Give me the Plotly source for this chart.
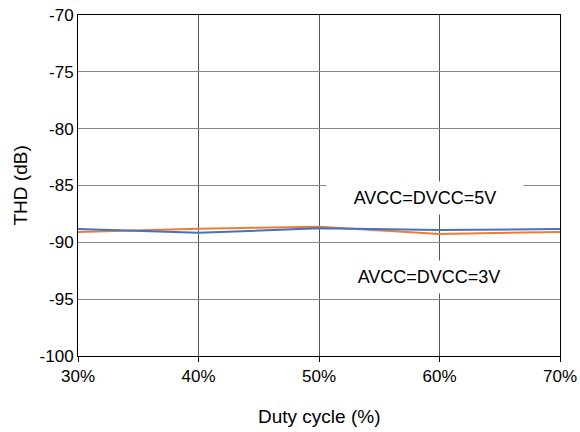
import plotly.graph_objects as go

# Duty cycle sweep (%) and measured THD (dB)
duty_cycle = [30, 40, 50, 60, 70]
thd_5v = [-88.83, -89.16, -88.77, -88.92, -88.83]
thd_3v = [-89.09, -88.80, -88.63, -89.27, -89.09]

x_ticks = [30, 40, 50, 60, 70]
x_tick_labels = ["30%", "40%", "50%", "60%", "70%"]
y_ticks = [-100, -95, -90, -85, -80, -75, -70]
y_tick_labels = ["-100", "-95", "-90", "-85", "-80", "-75", "-70"]

FONT = "Liberation Sans, Arial, sans-serif"

fig = go.Figure()
fig.add_trace(go.Scatter(
    x=duty_cycle, y=thd_3v, mode="lines",
    line=dict(color="#ED7D31", width=2), name="AVCC=DVCC=3V",
))
fig.add_trace(go.Scatter(
    x=duty_cycle, y=thd_5v, mode="lines",
    line=dict(color="#4472C4", width=2), name="AVCC=DVCC=5V",
))

label_style = dict(
    showarrow=False, bgcolor="white", borderpad=5,
    width=186, height=22, align="center",
    font=dict(family=FONT, size=18, color="black"),
    xref="x", yref="y",
)
fig.add_annotation(x=58.8, y=-86.1, text="AVCC=DVCC=5V", **label_style)
fig.add_annotation(x=59.1, y=-93.05, text="AVCC=DVCC=3V", **label_style)

# Axis titles
fig.add_annotation(
    text="Duty cycle (%)", xref="paper", yref="paper", x=0.5, y=0,
    yshift=-60, xanchor="center", yanchor="middle", showarrow=False,
    font=dict(family=FONT, size=19, color="black"),
)
fig.add_annotation(
    text="THD (dB)", xref="paper", yref="paper", x=0, y=0.5,
    xshift=-58, textangle=-90, xanchor="center", yanchor="middle",
    showarrow=False, font=dict(family=FONT, size=19, color="black"),
)

fig.update_layout(
    width=580, height=432,
    margin=dict(l=78, r=20, t=15, b=76),
    paper_bgcolor="white", plot_bgcolor="white",
    showlegend=False,
    font=dict(family=FONT, size=17, color="black"),
)
fig.update_xaxes(
    range=[30, 70], tickvals=x_ticks, ticktext=x_tick_labels,
    showgrid=True, gridcolor="#555555", gridwidth=1,
    showline=True, linecolor="black", linewidth=1, mirror=True,
    ticks="outside", ticklen=5, tickcolor="black", automargin=False,
    zeroline=False, tickfont=dict(family=FONT, size=17),
)
fig.update_yaxes(
    range=[-100, -70], tickvals=y_ticks, ticktext=y_tick_labels,
    showgrid=True, gridcolor="#888888", gridwidth=1,
    showline=True, linecolor="black", linewidth=1, mirror=True,
    ticks="", zeroline=False, automargin=False,
    tickfont=dict(family=FONT, size=17),
)

fig.write_html("out.html")
